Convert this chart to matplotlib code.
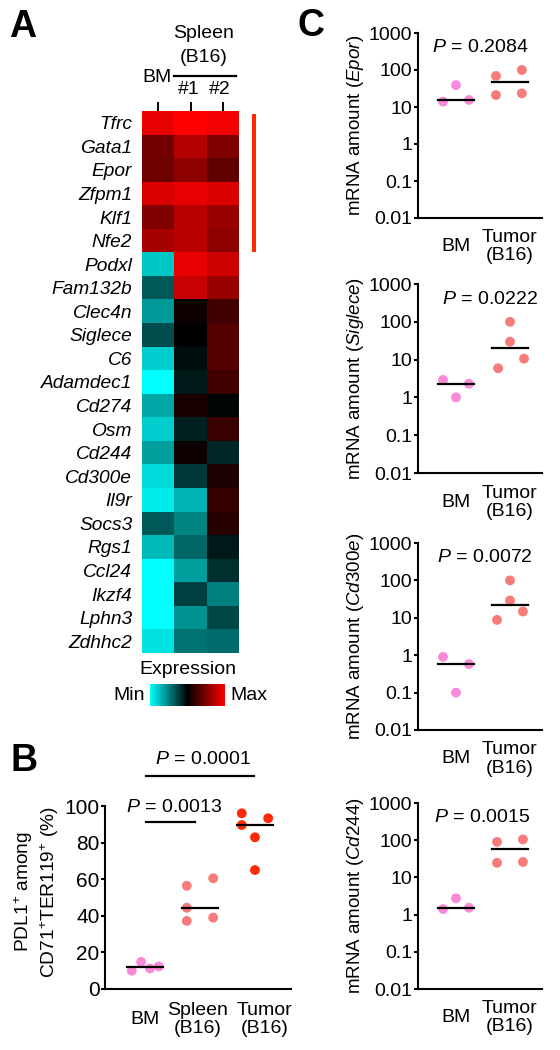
import numpy as np
import matplotlib
matplotlib.use("Agg")
import matplotlib.pyplot as plt
from matplotlib.colors import LinearSegmentedColormap
from matplotlib.patches import Rectangle
from matplotlib.lines import Line2D

plt.rcParams['font.family'] = ['Liberation Sans', 'DejaVu Sans']
plt.rcParams['mathtext.fontset'] = 'custom'
plt.rcParams['mathtext.rm'] = 'Liberation Sans'
plt.rcParams['mathtext.it'] = 'Liberation Sans:italic'
plt.rcParams['axes.linewidth'] = 1.5

# ---------------- data ----------------
genes = ["Tfrc", "Gata1", "Epor", "Zfpm1", "Klf1", "Nfe2", "Podxl", "Fam132b",
         "Clec4n", "Siglece", "C6", "Adamdec1", "Cd274", "Osm", "Cd244", "Cd300e",
         "Il9r", "Socs3", "Rgs1", "Ccl24", "Ikzf4", "Lphn3", "Zdhhc2"]
# relative expression, -1 = min (cyan), 0 = black, 1 = max (red)
expr_bm = [0.90, 0.45, 0.43, 0.85, 0.50, 0.65, -0.78, -0.35, -0.60, -0.30, -0.80, -1.00,
           -0.65, -0.80, -0.62, -0.85, -0.92, -0.35, -0.72, -1.00, -1.00, -1.00, -0.88]
expr_sp1 = [1.00, 0.70, 0.55, 0.90, 0.72, 0.72, 0.90, 0.78, 0.05, 0.00, -0.05, -0.10,
            0.10, -0.12, 0.05, -0.22, -0.70, -0.52, -0.40, -0.62, -0.25, -0.57, -0.45]
expr_sp2 = [0.95, 0.50, 0.38, 0.85, 0.60, 0.55, 0.80, 0.60, 0.25, 0.33, 0.33, 0.25,
            -0.02, 0.22, -0.15, 0.12, 0.20, 0.15, -0.10, -0.18, -0.50, -0.28, -0.42]
heat_cols = ["BM", "#1", "#2"]

b_groups = ["BM", "Spleen\n(B16)", "Tumor\n(B16)"]
b_bm = [10.0, 14.8, 11.2, 12.3]
b_spleen = [56.4, 44.4, 37.2, 60.5, 39.0]
b_tumor = [96.0, 89.6, 82.9, 65.0, 93.3]
b_pvals = ["0.0001", "0.0013"]

c_groups = ["BM", "Tumor\n(B16)"]
c_genes = ["Epor", "Siglece", "Cd300e", "Cd244"]
c_bm = [[14.0, 39.0, 15.5],
        [2.9, 1.0, 2.3],
        [0.9, 0.1, 0.58],
        [1.41, 2.74, 1.53]]
c_tumor = [[69.0, 21.0, 100.0, 23.4],
           [5.9, 100.0, 29.8, 10.6],
           [8.8, 100.0, 29.0, 14.7],
           [90.0, 24.7, 105.0, 26.0]]
c_pvals = ["0.2084", "0.0222", "0.0072", "0.0015"]

# ---------------- style ----------------
PINK = '#F98ADB'
SALMON = '#F77B78'
RED = '#FF2A0A'
W, H = 560, 1050

fig = plt.figure(figsize=(W / 100, H / 100), dpi=100)


def px_axes(l, t, r, b):
    return fig.add_axes([l / W, 1 - b / H, (r - l) / W, (b - t) / H])


def ftext(x, y, s, **kw):
    kw.setdefault('ha', 'center')
    kw.setdefault('va', 'center')
    return fig.text(x / W, 1 - y / H, s, **kw)


def fline(x0, x1, y, lw=1.6):
    fig.add_artist(Line2D([x0 / W, x1 / W], [1 - y / H, 1 - y / H],
                          transform=fig.transFigure, color='black', lw=lw))


# ---------------- panel A: heatmap ----------------
cmap = LinearSegmentedColormap.from_list('cbr', ['#00FFFF', '#000000', '#FF0000'])
mat = np.column_stack([expr_bm, expr_sp1, expr_sp2])

axa = px_axes(142, 111, 239, 653)
axa.imshow(mat, cmap=cmap, vmin=-1, vmax=1, aspect='auto', interpolation='nearest')
axa.set_yticks(range(len(genes)))
axa.set_yticklabels(genes, fontsize=13.8, style='italic')
axa.tick_params(axis='y', length=0, pad=7)
axa.xaxis.tick_top()
axa.set_xticks(range(len(heat_cols)))
axa.set_xticklabels([])
axa.tick_params(axis='x', length=6.5, width=1.4, direction='out')
for sp in axa.spines.values():
    sp.set_visible(False)

ftext(157, 78, heat_cols[0], fontsize=14)
ftext(189, 89, heat_cols[1], fontsize=14)
ftext(220, 89, heat_cols[2], fontsize=14)
ftext(204, 33, "Spleen", fontsize=14)
ftext(204, 58, "(B16)", fontsize=14)
fline(174, 236, 76, lw=1.6)

fig.add_artist(Rectangle((252 / W, 1 - 252 / H), 4 / W, 138 / H,
                         transform=fig.transFigure, color='#FF2A00', lw=0))

ftext(188, 669, "Expression", fontsize=14)
axcb = px_axes(150, 684, 225, 706)
axcb.imshow(np.linspace(-1, 1, 256).reshape(1, -1), cmap=cmap, aspect='auto')
axcb.axis('off')
ftext(145, 695, "Min", fontsize=14, ha='right')
ftext(230, 695, "Max", fontsize=14, ha='left')

# ---------------- panel B ----------------
axb = px_axes(105, 806, 291, 989)
b_data = [b_bm, b_spleen, b_tumor]
b_cols = [PINK, SALMON, RED]
b_offs = [[-0.24, -0.07, 0.09, 0.25],
          [-0.24, -0.24, -0.24, 0.24, 0.24],
          [-0.24, -0.24, 0.0, 0.0, 0.24]]
for i, (vals, col, offs) in enumerate(zip(b_data, b_cols, b_offs)):
    axb.scatter(i + np.array(offs), vals, s=50, color=col, edgecolors='none',
                zorder=3, clip_on=False)
    med = np.median(vals)
    axb.plot([i - 0.33, i + 0.33], [med, med], color='black', lw=1.6, zorder=4)
axb.set_xlim(-0.727, 2.655)
axb.set_ylim(0, 100)
axb.set_yticks(range(0, 101, 20))
axb.tick_params(axis='y', labelsize=15, length=3, width=1.5, pad=1)
axb.set_xticks([])
for sp in ['top', 'right']:
    axb.spines[sp].set_visible(False)
for x, lab in zip([0, 0.96, 2.17], b_groups):
    axb.text(x, -0.165, lab, transform=axb.get_xaxis_transform(), ha='center',
             va='center', fontsize=14, linespacing=1.1)

ftext(37, 892, "PDL1$^{+}$ among\nCD71$^{+}$TER119$^{+}$ (%)", fontsize=13.8,
      rotation=90, multialignment='center', linespacing=1.2)
ftext(203, 760, "$P$ = " + b_pvals[0], fontsize=14)
fline(146, 254, 776)
ftext(174, 807, "$P$ = " + b_pvals[1], fontsize=14)
fline(146, 195, 822)

# ---------------- panel C ----------------
c_boxes = [(33, 218), (284, 473), (543, 730), (803, 989)]
c_tum_offs = [[-0.26, -0.26, 0.22, 0.22],
              [-0.22, 0.0, 0.0, 0.26],
              [-0.24, 0.0, 0.0, 0.24],
              [-0.24, -0.24, 0.24, 0.24]]
c_p_x = [0.44, 0.63, 0.54, 0.48]
bm_offs = [-0.24, 0.0, 0.24]
for k, (gene, (top, bot)) in enumerate(zip(c_genes, c_boxes)):
    ax = px_axes(418, top, 542, bot)
    ax.set_yscale('log')
    ax.set_ylim(0.01, 1000)
    ax.set_xlim(-0.704, 1.593)
    for i, (vals, col, offs) in enumerate([(c_bm[k], PINK, bm_offs),
                                           (c_tumor[k], SALMON, c_tum_offs[k])]):
        ax.scatter(i + np.array(offs), vals, s=50, color=col, edgecolors='none',
                   zorder=3, clip_on=False)
        med = np.median(vals)
        ax.plot([i - 0.33, i + 0.33], [med, med], color='black', lw=1.6, zorder=4)
    ax.set_yticks([0.01, 0.1, 1, 10, 100, 1000])
    ax.set_yticklabels(['0.01', '0.1', '1', '10', '100', '1000'])
    ax.minorticks_off()
    ax.tick_params(axis='y', labelsize=14, length=3, width=1.5, pad=1)
    ax.set_xticks([])
    for sp in ['top', 'right']:
        ax.spines[sp].set_visible(False)
    ax.set_ylabel("mRNA amount ($\\mathit{" + gene + "}$)", fontsize=13.5, labelpad=2)
    for x, lab in zip([0, 1], c_groups):
        ax.text(x, -0.155, lab, transform=ax.get_xaxis_transform(), ha='center',
                va='center', fontsize=14, linespacing=1.1)
    ax.text(c_p_x[k], 0.92, "$P$ = " + c_pvals[k], transform=ax.get_xaxis_transform(),
            ha='center', va='center', fontsize=14)

# panel letters
ftext(23, 27, "A", fontsize=27, weight='bold')
ftext(24, 761, "B", fontsize=27, weight='bold')
ftext(311, 26, "C", fontsize=27, weight='bold')

fig.savefig("out.png", dpi=100)
